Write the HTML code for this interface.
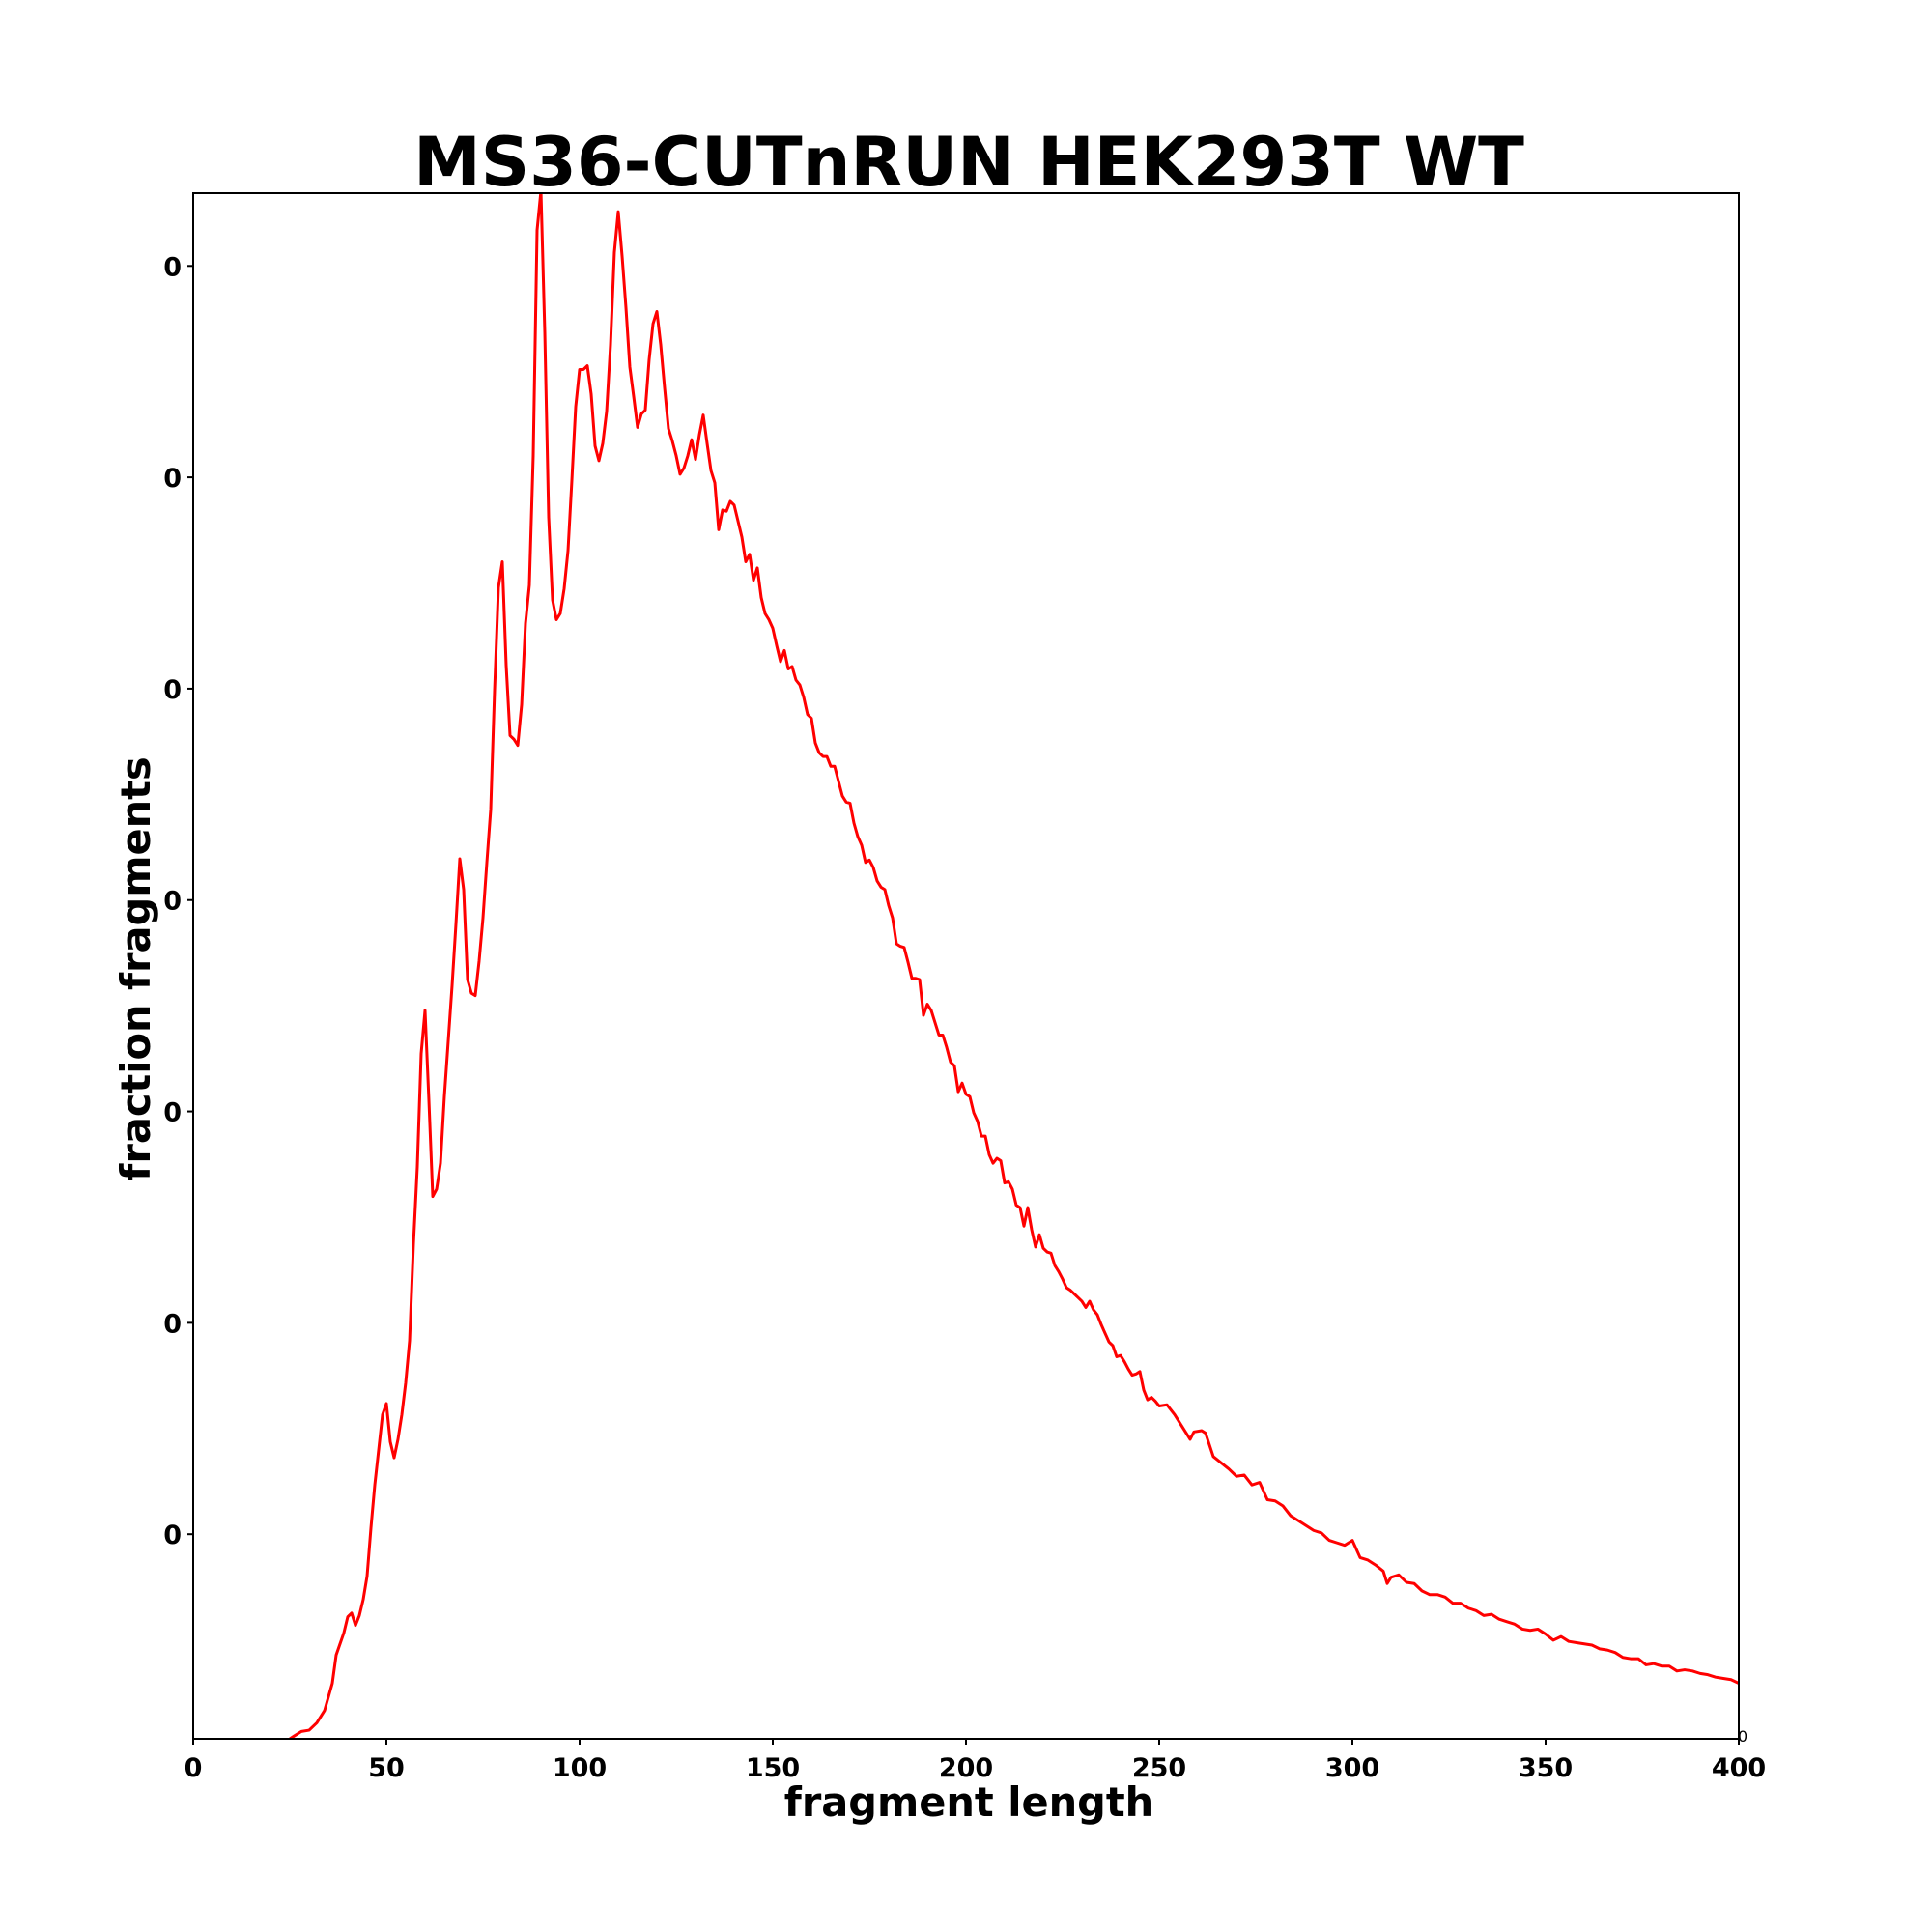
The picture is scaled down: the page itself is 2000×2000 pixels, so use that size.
<!DOCTYPE html>
<html><head><meta charset="utf-8"><style>
html,body{margin:0;padding:0;background:#fff;}
svg{display:block;font-family:"DejaVu Sans","Liberation Sans",sans-serif;}
</style></head><body>
<svg id="chart" width="2000" height="2000" viewBox="0 0 2000 2000">
<rect width="2000" height="2000" fill="#fff"/>
<text x="1003" y="192" text-anchor="middle" font-size="70" font-weight="bold">MS36-CUTnRUN HEK293T WT</text>
<text x="1003" y="1880" text-anchor="middle" font-size="41.5" font-weight="bold">fragment length</text>
<text x="0" y="0" transform="translate(155,1003) rotate(-90)" text-anchor="middle" font-size="41.5" font-weight="bold">fraction fragments</text>
<defs><clipPath id="clip"><rect x="200" y="200" width="1600" height="1600"/></clipPath></defs>
<g id="ticks"></g>
<g clip-path="url(#clip)"><path id="line" fill="none" stroke="#ff0000" stroke-width="3" stroke-linejoin="round"/></g>
<rect x="200" y="200" width="1600" height="1600" fill="none" stroke="#000" stroke-width="2"/>
<text x="1799" y="1803" font-size="16" fill="#000">0</text>
</svg>
<script>
const xs = [25,26,28,30,32,34,36,37,39,40,41,42,43,44,45,46,47,49,50,51,52,53,54,55,56,57,58,59,60,61,62,63,64,65,66,67,68,69,70,71,72,73,74,75,76,77,78,79,80,81,82,83,84,85,86,87,88,89,90,91,92,93,94,95,96,97,98,99,100,101,102,103,104,105,106,107,108,109,110,111,112,113,114,115,116,117,118,119,120,121,122,123,124,125,126,127,128,129,130,131,132,133,134,135,136,137,138,139,140,141,142,143,144,145,146,147,148,149,150,151,152,153,154,155,156,157,158,159,160,161,162,163,164,165,166,167,168,169,170,171,172,173,174,175,176,177,178,179,180,181,182,183,184,185,186,187,188,189,190,191,192,193,194,195,196,197,198,199,200,201,202,203,204,205,206,207,208,209,210,211,212,213,214,215,216,217,218,219,220,221,222,223,224,225,226,227,228,229,230,231,232,233,234,235,236,237,238,239,240,241,242,243,244,245,246,247,248,249,250,252,254,256,258,259,261,262,264,266,268,270,272,274,276,278,280,282,284,286,288,290,292,294,296,298,300,302,304,306,308,309,310,312,314,316,318,320,322,324,326,328,330,332,334,336,338,340,342,344,346,348,350,352,354,356,358,360,362,364,366,368,370,372,374,376,378,380,382,384,386,388,390,392,394,396,398,400];
const ysRaw = [0,2,6,7,13,23,45,68,86,99,102,92,100,113,132,171,206,263,272,241,228,243,263,289,323,401,464,556,591,518,440,446,467,521,566,611,661,714,689,616,605,603,631,666,711,754,851,934,955,871,814,811,806,839,905,936,1041,1224,1256,1141,991,924,908,913,933,964,1021,1081,1111,1111,1114,1091,1049,1037,1051,1077,1131,1206,1239,1203,1161,1113,1089,1064,1075,1078,1119,1148,1158,1131,1096,1063,1053,1041,1026,1031,1041,1054,1038,1058,1074,1051,1029,1019,981,997,996,1004,1001,988,975,955,961,940,950,926,913,908,901,887,874,883,868,870,859,855,845,831,828,808,800,797,797,789,789,777,765,760,759,743,732,725,711,713,707,696,691,689,676,666,645,643,642,630,617,617,616,587,596,591,581,571,571,561,549,546,525,532,523,521,508,501,489,489,474,467,471,469,451,452,446,433,431,416,431,413,399,409,398,395,394,384,379,373,366,364,361,358,355,350,355,348,344,336,329,322,319,310,311,306,300,295,296,298,283,275,277,274,270,271,263,253,243,249,250,248,229,224,219,213,214,206,208,194,193,189,181,177,173,169,167,161,159,157,161,147,145,141,136,126,131,133,127,126,120,117,117,115,110,110,106,104,100,101,97,95,93,89,88,89,85,80,83,79,78,77,76,73,72,70,66,65,65,60,61,59,59,55,56,55,53,52,50,49,48,45];
const xTicks = [0,50,100,150,200,250,300,350,400];
const yTicks = [0.00166,0.003375,0.00509,0.006805,0.00852,0.010235,0.01195];
const yTickLabels = ["0","0","0","0","0","0","0"];
const ys = ysRaw.map(v => v / 100000);
const X0=200,X1=1800,Y0=1800,Y1=200, xMax=400, yMax=0.01254;
const sx = x => X0 + (X1-X0)*x/xMax;
const sy = y => Y0 - (Y0-Y1)*y/yMax;
const NS="http://www.w3.org/2000/svg";
let d="";
for(let i=0;i<xs.length;i++){d+=(i?"L":"M")+sx(xs[i]).toFixed(2)+","+sy(ys[i]).toFixed(2);}
document.getElementById("line").setAttribute("d",d);
const tg=document.getElementById("ticks");
xTicks.forEach(t=>{
  const l=document.createElementNS(NS,"line");
  l.setAttribute("x1",sx(t));l.setAttribute("x2",sx(t));l.setAttribute("y1",1800);l.setAttribute("y2",1806);
  l.setAttribute("stroke","#000");l.setAttribute("stroke-width","2");
  
  
  tg.appendChild(l);
  const tx=document.createElementNS(NS,"text");
  tx.setAttribute("x",sx(t));tx.setAttribute("y",1839);tx.setAttribute("text-anchor","middle");
  tx.setAttribute("font-size","27");tx.setAttribute("font-weight","bold");
  tx.textContent=String(t);
  
  
  tg.appendChild(tx);
});
yTicks.forEach((t,i)=>{
  const l=document.createElementNS(NS,"line");
  l.setAttribute("x1",194);l.setAttribute("x2",200);l.setAttribute("y1",sy(t));l.setAttribute("y2",sy(t));
  l.setAttribute("stroke","#000");l.setAttribute("stroke-width","2");
  
  
  tg.appendChild(l);
  const tx=document.createElementNS(NS,"text");
  tx.setAttribute("x",188);tx.setAttribute("y",sy(t)+10);tx.setAttribute("text-anchor","end");
  tx.setAttribute("font-size","27");tx.setAttribute("font-weight","bold");
  tx.textContent=yTickLabels[i];
  
  
  tg.appendChild(tx);
});
</script>
</body></html>
